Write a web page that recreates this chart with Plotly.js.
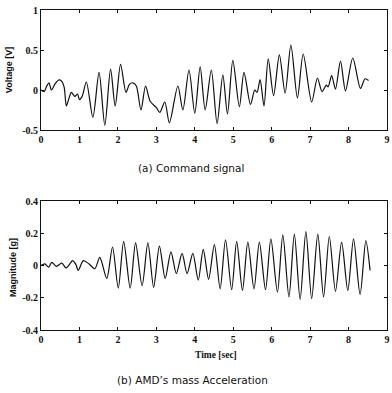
<!DOCTYPE html>
<html><head><meta charset="utf-8">
<script src="https://cdn.plot.ly/plotly-3.0.1.min.js"></script>
<style>html,body{margin:0;padding:0;background:#fff}#c{width:392px;height:393px}</style>
</head><body><div id="c"></div>
<script>
// (a) Command signal
const cmdTime = [0,0.08,0.15,0.21,0.27,0.37,0.46,0.52,0.6,0.66,0.73,0.79,0.88,0.95,1.0,1.07,1.18,1.35,1.51,1.66,1.81,1.93,2.07,2.21,2.3,2.39,2.48,2.6,2.72,2.84,3.0,3.09,3.22,3.34,3.56,3.69,3.85,4.0,4.14,4.27,4.43,4.58,4.73,4.85,4.99,5.16,5.28,5.45,5.56,5.62,5.70,5.80,5.91,6.05,6.20,6.35,6.50,6.67,6.82,7.04,7.19,7.31,7.42,7.47,7.56,7.66,7.79,7.92,8.11,8.31,8.43,8.52];
const cmdVolt = [0,-0.02,0.05,0.09,0.0,0.08,0.125,0.12,0.04,-0.2,-0.1,-0.03,-0.08,-0.05,-0.12,-0.08,0.10,-0.34,0.22,-0.44,0.26,-0.2,0.32,-0.03,0.07,0.09,0.05,-0.25,0.05,-0.14,-0.22,-0.28,-0.15,-0.41,0.05,-0.25,0.25,-0.29,0.29,-0.25,0.25,-0.42,0.19,-0.3,0.37,-0.21,0.22,-0.18,0.0,-0.03,0.13,-0.2,0.39,-0.07,0.44,-0.04,0.56,-0.1,0.45,-0.15,0.15,-0.02,0.06,0.04,0.18,0.01,0.36,-0.01,0.40,0.02,0.14,0.12];
// (b) AMD's mass acceleration
const accTime = [0,0.1,0.2,0.28,0.4,0.54,0.65,0.75,0.82,0.9,0.97,1.1,1.25,1.40,1.53,1.71,1.86,2.01,2.15,2.32,2.46,2.63,2.78,2.93,3.08,3.23,3.38,3.52,3.67,3.80,3.95,4.09,4.22,4.36,4.51,4.66,4.80,4.96,5.09,5.24,5.38,5.54,5.68,5.84,5.98,6.15,6.29,6.45,6.59,6.74,6.89,7.04,7.20,7.35,7.50,7.66,7.82,7.98,8.13,8.30,8.45,8.56];
const accMag = [0,0.01,-0.01,0.02,-0.005,0.015,-0.015,0.01,0.03,0.01,-0.03,0.03,0.01,-0.02,0.05,-0.08,0.115,-0.14,0.15,-0.14,0.14,-0.125,0.14,-0.135,0.12,-0.08,0.085,-0.05,0.075,-0.05,0.075,-0.09,0.10,-0.085,0.13,-0.145,0.16,-0.15,0.15,-0.155,0.145,-0.145,0.145,-0.15,0.165,-0.165,0.19,-0.195,0.195,-0.21,0.21,-0.205,0.195,-0.195,0.18,-0.16,0.145,-0.155,0.165,-0.18,0.155,-0.03];
const xTicks = [0,1,2,3,4,5,6,7,8,9];
const yTicksA = [-0.5,0,0.5,1];
const yTicksB = [-0.4,-0.2,0,0.2,0.4];

const lineStyle = {color:'#111', width:1.2, shape:'spline', smoothing:0.8};
const data = [
  {x:cmdTime, y:cmdVolt, type:'scatter', mode:'lines', line:lineStyle, xaxis:'x', yaxis:'y', hoverinfo:'skip'},
  {x:accTime, y:accMag, type:'scatter', mode:'lines', line:lineStyle, xaxis:'x2', yaxis:'y2', hoverinfo:'skip'}
];
const tickFont = {family:'Liberation Serif, serif', size:10, color:'#111', weight:'bold'};
const axBase = {showline:true, linecolor:'#111', linewidth:1, mirror:'ticks', ticks:'inside', ticklen:3, tickcolor:'#111', showgrid:false, zeroline:false, tickfont:tickFont, fixedrange:true};
const layout = {
  width:392, height:393,
  margin:{l:41, r:5, t:10, b:63},
  paper_bgcolor:'#fff', plot_bgcolor:'#fff',
  showlegend:false,
  xaxis: Object.assign({}, axBase, {domain:[0,1], range:[0,9], tickvals:xTicks, anchor:'y'}),
  yaxis: Object.assign({}, axBase, {domain:[0.625,1], range:[-0.5,1], tickvals:yTicksA, ticktext:yTicksA.map(String), anchor:'x'}),
  xaxis2: Object.assign({}, axBase, {domain:[0,1], range:[0,9], tickvals:xTicks, anchor:'y2'}),
  yaxis2: Object.assign({}, axBase, {domain:[0,0.403], range:[-0.4,0.4], tickvals:yTicksB, ticktext:yTicksB.map(String), anchor:'x2'}),
  annotations:[
    {text:'Voltage [V]', xref:'paper', yref:'paper', x:-0.092, y:0.8125, xanchor:'center', yanchor:'middle', textangle:-90, showarrow:false, font:{family:'Liberation Sans, sans-serif', size:9, color:'#111', weight:'bold'}},
    {text:'Magnitude [g]', xref:'paper', yref:'paper', x:-0.081, y:0.197, xanchor:'center', yanchor:'middle', textangle:-90, showarrow:false, font:{family:'Liberation Sans, sans-serif', size:9, color:'#111', weight:'bold'}},
    {text:'(a) Command signal', xref:'paper', yref:'paper', x:0.434, y:0.506, xanchor:'center', yanchor:'middle', showarrow:false, font:{family:'DejaVu Sans, sans-serif', size:10.5, color:'#111'}},
    {text:'Time [sec]', xref:'paper', yref:'paper', x:0.506, y:-0.078, xanchor:'center', yanchor:'middle', showarrow:false, font:{family:'Liberation Serif, serif', size:9.5, color:'#111', weight:'bold'}},
    {text:'(b) AMD\u2019s mass Acceleration', xref:'paper', yref:'paper', x:0.437, y:-0.156, xanchor:'center', yanchor:'middle', showarrow:false, font:{family:'DejaVu Sans, sans-serif', size:10.5, color:'#111'}}
  ]
};
Plotly.newPlot('c', data, layout, {staticPlot:true, displayModeBar:false});
</script></body></html>
